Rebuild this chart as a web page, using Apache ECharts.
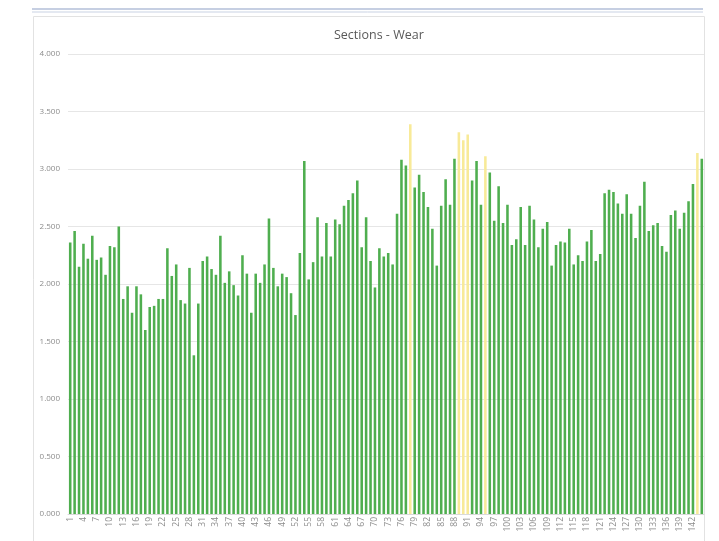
<!DOCTYPE html>
<html>
<head>
<meta charset="utf-8">
<script src="https://cdn.jsdelivr.net/npm/echarts@6/dist/echarts.min.js"></script>
<style>
html,body{margin:0;padding:0;background:#fff;}
#chart{width:719px;height:541px;}
</style>
</head>
<body>
<div id="chart"></div>
<script>
var titleText = 'Sections - Wear';
var yTicks = [0, 0.5, 1, 1.5, 2, 2.5, 3, 3.5, 4];
var wear = [
  2.36, 2.46, 2.15, 2.35, 2.22, 2.42, 2.21, 2.23, 2.08, 2.33, 2.32, 2.50,
  1.87, 1.98, 1.75, 1.98, 1.91, 1.60, 1.80, 1.81, 1.87, 1.87, 2.31, 2.07,
  2.17, 1.86, 1.83, 2.14, 1.38, 1.83, 2.20, 2.24, 2.13, 2.08, 2.42, 2.01,
  2.11, 1.99, 1.90, 2.25, 2.09, 1.75, 2.09, 2.01, 2.17, 2.57, 2.14, 1.98,
  2.09, 2.06, 1.92, 1.73, 2.27, 3.07, 2.04, 2.19, 2.58, 2.24, 2.53, 2.24,
  2.56, 2.52, 2.68, 2.73, 2.79, 2.90, 2.32, 2.58, 2.20, 1.97, 2.31, 2.24,
  2.27, 2.17, 2.61, 3.08, 3.03, 3.39, 2.84, 2.95, 2.80, 2.67, 2.48, 2.16,
  2.68, 2.91, 2.69, 3.09, 3.32, 3.25, 3.30, 2.90, 3.07, 2.69, 3.11, 2.97,
  2.55, 2.85, 2.53, 2.69, 2.34, 2.39, 2.67, 2.34, 2.68, 2.56, 2.32, 2.48,
  2.54, 2.16, 2.34, 2.37, 2.36, 2.48, 2.17, 2.25, 2.20, 2.37, 2.47, 2.20,
  2.26, 2.79, 2.82, 2.80, 2.70, 2.61, 2.78, 2.61, 2.40, 2.68, 2.89, 2.46,
  2.51, 2.53, 2.33, 2.28, 2.60, 2.64, 2.48, 2.62, 2.72, 2.87, 3.14, 3.09
];
var highlighted = [78, 89, 90, 91, 95, 143];
var sections = wear.map(function (v, i) { return String(i + 1); });

var GREEN = '#4fae4f';
var YELLOW = '#f8ea98';

var barData = wear.map(function (v, i) {
  var isHi = highlighted.indexOf(i + 1) >= 0;
  return { value: v, itemStyle: { color: isHi ? YELLOW : GREEN } };
});

var chart = echarts.init(document.getElementById('chart'), null, { renderer: 'canvas' });
chart.setOption({
  animation: false,
  backgroundColor: '#ffffff',
  title: {
    text: titleText,
    left: 329,
    top: 24,
    textStyle: { fontFamily: 'Open Sans', fontSize: 12.5, fontWeight: 'normal', color: '#595959' }
  },
  graphic: [
    { type: 'line', shape: { x1: 32, y1: 9, x2: 703, y2: 9 }, style: { stroke: '#b3bfd8', lineWidth: 1.5 }, silent: true },
    { type: 'line', shape: { x1: 32, y1: 12, x2: 703, y2: 12 }, style: { stroke: '#c9d2e3', lineWidth: 1 }, silent: true },
    { type: 'rect', shape: { x: 33.5, y: 16.5, width: 671, height: 530 }, style: { fill: 'none', stroke: '#e2e2e2', lineWidth: 1 }, silent: true }
  ],
  grid: { left: 68, right: 15, top: 54, bottom: 27, containLabel: false },
  xAxis: {
    type: 'category',
    data: sections,
    axisLine: { show: true, lineStyle: { color: '#d9d9d9' } },
    axisTick: { show: false },
    axisLabel: {
      interval: 2,
      rotate: 90,
      fontSize: 8.5,
      color: '#8c8c8c',
      fontFamily: 'Open Sans',
      margin: 3
    }
  },
  yAxis: {
    type: 'value',
    min: yTicks[0],
    max: yTicks[yTicks.length - 1],
    interval: 0.5,
    axisLine: { show: false },
    axisTick: { show: false },
    splitLine: { lineStyle: { color: '#e6e6e6', width: 1 } },
    axisLabel: {
      fontSize: 8,
      color: '#8c8c8c',
      fontFamily: 'Open Sans',
      margin: 8,
      align: 'right',
      formatter: function (v) { return v.toFixed(3); }
    }
  },
  series: [{
    type: 'bar',
    data: barData,
    barWidth: '58%'
  }]
});
</script>
</body>
</html>
